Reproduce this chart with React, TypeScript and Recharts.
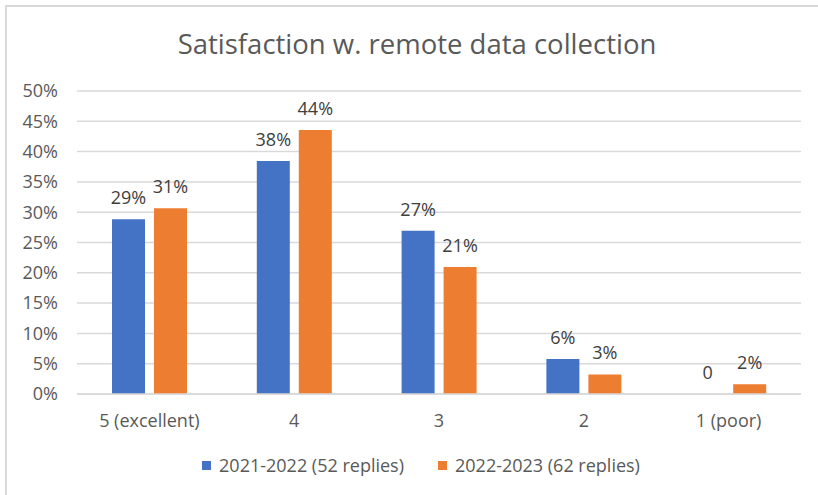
import { BarChart, Bar, XAxis, YAxis, CartesianGrid, LabelList } from 'recharts';

const categories = ['5 (excellent)', '4', '3', '2', '1 (poor)'];
const replies2122 = [28.85, 38.46, 26.92, 5.77, 0];
const replies2223 = [30.65, 43.55, 20.97, 3.23, 1.61];
const yTicks = [0, 5, 10, 15, 20, 25, 30, 35, 40, 45, 50];

const SERIES = [
  { key: 'a', name: '2021-2022 (52 replies)', color: '#4472C4' },
  { key: 'b', name: '2022-2023 (62 replies)', color: '#ED7D31' },
];

const FONT = '"Open Sans", "Noto Sans", sans-serif';
const BAR_GAP = 9;

const data = categories.map((name, i) => ({
  name,
  a: replies2122[i],
  b: replies2223[i],
}));

const fmtLabel = (v: any) => (Number(v) === 0 ? '0' : `${Math.round(Number(v))}%`);

const labelText = (x: number, y: number, txt: string, key?: string) => (
  <text key={key} x={x} y={y} textAnchor="middle" fontSize={18} fill="#404040" fontFamily={FONT}>
    {txt}
  </text>
);

// recharts drops zero-height bars from the label list, so the orange
// series also writes the "0" for an empty blue bar beside it
const BarLabel = (props: any) => {
  const { x, y, width, height, value, index, dataKey } = props;
  if (value == null) return null;
  const bx = Number(x);
  const bw = Number(width);
  const out = [labelText(bx + bw / 2, Number(y) - 15, fmtLabel(value), 'own')];
  if (dataKey === 'b' && replies2122[index] === 0) {
    const base = Number(y) + Number(height);
    out.push(labelText(bx - BAR_GAP - bw / 2, base - 15, '0', 'zero'));
  }
  return <g>{out}</g>;
};

export default function App() {
  return (
    <div
      style={{
        position: 'fixed',
        left: 0,
        top: 0,
        width: 818,
        height: 495,
        overflow: 'hidden',
        background: '#fff',
        fontFamily: FONT,
      }}
    >
      {/* chart frame, only top and left edges are in view */}
      <div
        style={{
          position: 'absolute',
          left: 5,
          top: 5,
          width: 900,
          height: 600,
          border: '2px solid #d9d9d9',
        }}
      />
      <svg width={818} height={80} style={{ position: 'absolute', left: 0, top: 0 }}>
        <text x={417} y={54} textAnchor="middle" fontSize={27.5} fill="#595959" fontFamily={FONT}>
          Satisfaction w. remote data collection
        </text>
      </svg>
      <div style={{ position: 'absolute', left: 0, top: 0 }}>
        <BarChart
          width={818}
          height={495}
          data={data}
          margin={{ top: 91, right: 17, left: 0, bottom: 61 }}
          barCategoryGap={35}
          barGap={BAR_GAP}
        >
          <CartesianGrid vertical={false} stroke="#d9d9d9" strokeWidth={1.5} />
          <XAxis
            dataKey="name"
            height={40}
            tickLine={false}
            tickSize={0}
            tickMargin={20}
            axisLine={{ stroke: '#d9d9d9', strokeWidth: 1.5 }}
            tick={{ fontSize: 18, fill: '#595959', fontFamily: FONT }}
          />
          <YAxis
            width={77}
            domain={[0, 50]}
            ticks={yTicks}
            tickFormatter={(v) => `${v}%`}
            axisLine={false}
            tickLine={false}
            tickSize={0}
            tickMargin={19}
            tick={{ fontSize: 18, fill: '#595959', fontFamily: FONT }}
          />
          {SERIES.map((s) => (
            <Bar key={s.key} dataKey={s.key} name={s.name} fill={s.color} isAnimationActive={false}>
              <LabelList dataKey={s.key} content={(p: any) => <BarLabel {...p} dataKey={s.key} />} />
            </Bar>
          ))}
        </BarChart>
      </div>
      <div
        style={{
          position: 'absolute',
          left: 0,
          top: 452,
          width: 842,
          height: 26,
          display: 'flex',
          justifyContent: 'center',
          alignItems: 'center',
          gap: 34,
          fontSize: 18,
          color: '#595959',
        }}
      >
        {SERIES.map((s) => (
          <div key={s.key} style={{ display: 'flex', alignItems: 'center', gap: 8 }}>
            <span style={{ width: 9, height: 9, background: s.color, display: 'inline-block' }} />
            <span>{s.name}</span>
          </div>
        ))}
      </div>
    </div>
  );
}
